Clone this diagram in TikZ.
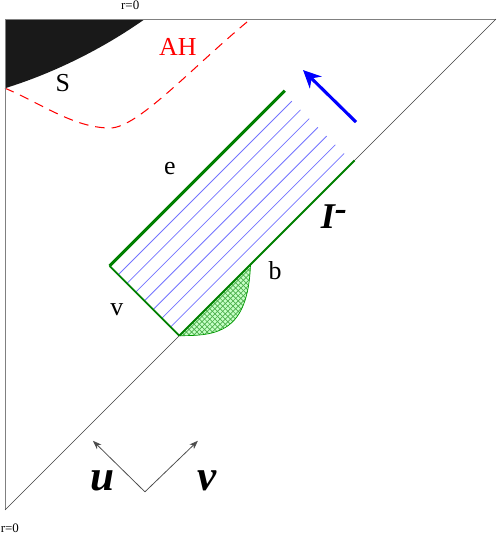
\documentclass[tikz,border=0pt]{standalone}
\usepackage{fontspec}
\setmainfont{Liberation Serif}
\usetikzlibrary{calc,patterns,arrows.meta}

\begin{document}
\begin{tikzpicture}
		[
			scale=1.00,
			frame/.style = {draw=gray, line width=0.5pt},
			scri/.style = {draw=black!75, line width=0.35pt},
			edge/.style = {draw=green!50!black, line width=1.1pt},
			hline/.style = {draw=blue!55, line width=0.45pt, shorten >=1.5pt},
			axis/.style = {draw=black!70, line width=0.45pt, -{Stealth[length=1.8mm,width=1.3mm]}},
			lbl/.style = {font=\fontsize{15}{18}\selectfont},
			blbl/.style = {font=\fontsize{21}{25}\selectfont\bfseries\itshape},
			small/.style = {font=\fontsize{7.5}{9}\selectfont},
		]
		\useasboundingbox (-0.102,-0.489) rectangle (10.04,10.387);

		% corners of the diagram
		\coordinate (o) 	at (  0.00,  0.00 );
		\coordinate (tl) 	at (  0.00, 10.00 );
		\coordinate (tr) 	at ( 10.00, 10.00 );
		\coordinate (sl) 	at (  0.00,  8.59 );
		\coordinate (sr) 	at (  2.85, 10.00 );

		% strip
		\coordinate (l) 	at (  2.13,  4.97 );
		\coordinate (b) 	at (  3.55,  3.55 );
		\coordinate (t) 	at (  5.70,  8.54 );
		\coordinate (c) 	at (  7.12,  7.12 );
		\coordinate (bb) 	at (  5.00,  5.00 );

		% singularity
		\fill[black!90] (tl) -- (sr) .. controls (2.0,9.4) and (1.0,8.9) .. (sl) -- cycle;

		% apparent horizon
		\draw[red, line width=0.6pt, dash pattern=on 5.5pt off 4pt]
			(sl) .. controls (0.7,8.3) and (1.4,7.78) .. (2.14,7.78)
			.. controls (2.7,7.78) and (3.8,9.0) .. (4.93,9.94);

		% boundary
		\draw[frame] (o) -- (tl) -- (tr);
		\draw[scri] (o) -- (tr);

		% green region
		\fill[green!22] (b) -- (bb) .. controls (4.95,3.6) and (4.3,3.55) .. (b) -- cycle;
		\path[pattern=crosshatch, pattern color=green!55!black!70] (b) -- (bb) .. controls (4.95,3.6) and (4.3,3.55) .. (b) -- cycle;
		\draw[green!60!black, line width=0.4pt] (bb) .. controls (4.95,3.6) and (4.3,3.55) .. (b);

		% null rays
		\foreach \i in {1,...,7}
		\draw[hline] ($(l)!\i/8!(b)$) -- ($(t)!\i/8!(c)$);

		\draw[edge, line width=1.7pt] (l) -- (t);
		\draw[edge] (b) -- (l);
		\draw[edge] (b) -- (c);

		% time arrow
		\coordinate (ta) 	at (  7.15,  7.90 );
		\coordinate (tb) 	at (  6.07,  8.96 );
		\draw[blue, line width=1.8pt, -{Stealth[length=3.6mm,width=3.4mm]}] (ta) -- (tb);

		% u and v axes
		\coordinate (ax) 	at (  2.85,  0.37 );
		\coordinate (ua) 	at (  1.79,  1.41 );
		\coordinate (va) 	at (  3.93,  1.41 );
		\draw[axis] (ax) -- (ua);
		\draw[axis] (ax) -- (va);

		% labels
		\node[small] (rtop) 	at (  2.55, 10.28 ) {r=0};
		\node[small] (rbot) 	at (  0.10, -0.37 ) {r=0};
		\node[lbl] (sing) 	at (  1.18,  8.70 ) {S};
		\node[lbl, red] (ah) 	at (  3.52,  9.43 ) {AH};
		\node[lbl] (le) 	at (  3.36,  6.95 ) {e};
		\node[lbl] (lv) 	at (  2.28,  4.07 ) {v};
		\node[lbl] (lb) 	at (  5.50,  4.87 ) {b};
		\node[blbl] (scr) 	at (  6.70,  5.97 ) {I\raisebox{0.5ex}{-}};
		\node[blbl, font=\fontsize{25}{30}\selectfont\bfseries\itshape] (lu) 	at (  1.99,  0.60 ) {u};
		\node[blbl, font=\fontsize{25}{30}\selectfont\bfseries\itshape] (lvv) 	at (  4.11,  0.60 ) {v};

		\end{tikzpicture}
\end{document}
